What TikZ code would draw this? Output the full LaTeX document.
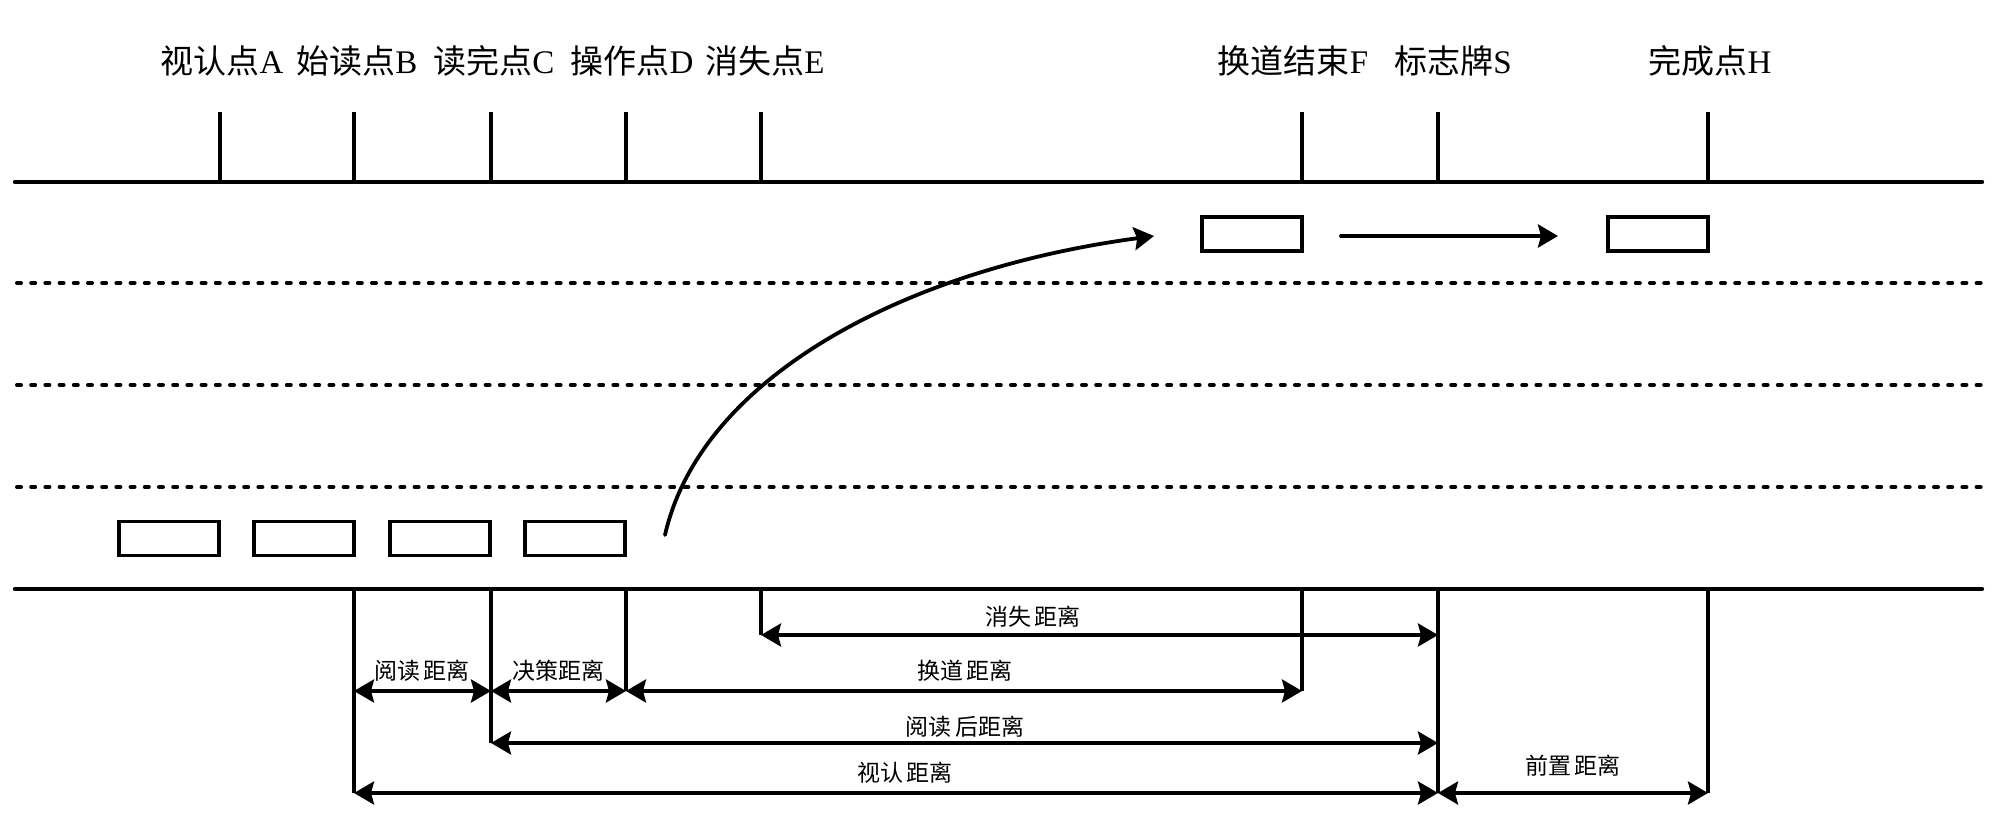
\documentclass[tikz,border=0pt]{standalone}
\usepackage{fontspec}
\setmainfont{Liberation Serif}
\newfontfamily\cjk{Noto Sans CJK SC}
\usetikzlibrary{arrows.meta}
\begin{document}
\begin{tikzpicture}[x=0.5pt,y=-0.5pt,
 road/.style={line width=2.2pt,line cap=round},
 tickline/.style={line width=1.7pt},
 lane/.style={line width=2pt,line cap=round,dash pattern=on 2pt off 5.1pt},
 car/.style={draw,line width=1.7pt,minimum width=50pt,minimum height=17pt,inner sep=0pt},
 tip/.tip={Stealth[length=10pt,width=11.5pt,inset=1.5pt]},
 dim/.style={line width=1.8pt,tip-tip},
 mover/.style={line width=1.9pt,line cap=round,-tip},
 toplbl/.style={font=\fontsize{16.5pt}{18pt}\selectfont,inner sep=0pt},
 dimlbl/.style={font=\fontsize{11.5pt}{13pt}\cjk,inner sep=0pt},
]
\useasboundingbox (0,0) rectangle (1999,840);
% road edges and lanes
\coordinate (roadTL) at (15,182); \coordinate (roadTR) at (1982,182);
\coordinate (roadBL) at (15,589); \coordinate (roadBR) at (1982,589);
\draw[road] (roadTL) -- (roadTR);
\draw[road] (roadBL) -- (roadBR);
\foreach \y [count=\i] in {283,385,487}{
  \coordinate (lane\i L) at (17,\y); \coordinate (lane\i R) at (1982,\y);
  \draw[lane] (lane\i L) -- (lane\i R);
}
% top ticks
\foreach \n/\x in {A/220,B/354,C/491,D/626,E/761,F/1302,S/1438,H/1708}{
  \coordinate (\n) at (\x,182);
  \coordinate (\n top) at (\x,112);
  \coordinate (\n bot) at (\x,589);
  \draw[tickline] (\n) -- (\n top);
}
% top labels
\node[toplbl] (lA) at (222,61) {{\cjk 视认点}A};
\node[toplbl] (lB) at (357,61) {{\cjk 始读点}B};
\node[toplbl] (lC) at (494,61) {{\cjk 读完点}C};
\node[toplbl] (lD) at (632,61) {{\cjk 操作点}D};
\node[toplbl] (lE) at (765,61) {{\cjk 消失点}E};
\node[toplbl] (lF) at (1293,61) {{\cjk 换道结束}F};
\node[toplbl] (lS) at (1453,61) {{\cjk 标志牌}S};
\node[toplbl] (lH) at (1710,61) {{\cjk 完成点}H};
% cars
\node[car] (car1) at (169,538.5) {};
\node[car] (car2) at (304,538.5) {};
\node[car] (car3) at (440,538.5) {};
\node[car] (car4) at (575,538.5) {};
\node[car] (car5) at (1252,234) {};
\node[car] (car6) at (1658,234) {};
% motion arrows
\coordinate (curveS) at (665,535);
\coordinate (curveE) at (1154,236);
\draw[mover] (curveS) .. controls (700,380) and (900,270) .. (curveE);
\coordinate (straightS) at (1341,236);
\coordinate (straightE) at (1558,236);
\draw[mover] (straightS) -- (straightE);
% extension lines below road
\coordinate (Bd) at (354,793); \coordinate (Cd) at (491,743);
\coordinate (Dd) at (626,691); \coordinate (Ed) at (761,635);
\coordinate (Fd) at (1302,691); \coordinate (Sd) at (1438,793);
\coordinate (Hd) at (1708,793);
\foreach \n in {B,C,D,E,F,S,H}{ \draw[tickline] (\n bot) -- (\n d); }
% dimension lines
\coordinate (Sd1) at (1438,635);
\coordinate (Cd2) at (491,691);
\coordinate (Bd2) at (354,691);
\coordinate (Sd3) at (1438,743);
\draw[dim] (Ed) -- (Sd1);
\draw[dim] (Bd2) -- (Cd2);
\draw[dim] (Cd2) -- (Dd);
\draw[dim] (Dd) -- (Fd);
\draw[dim] (Cd) -- (Sd3);
\draw[dim] (Bd) -- (Sd);
\draw[dim] (Sd) -- (Hd);
% dimension labels
\node[dimlbl] (d1) at (1033,617) {消失\hspace{0.15em}距离};
\node[dimlbl] (d2) at (422,671) {阅读\hspace{0.15em}距离};
\node[dimlbl] (d3) at (558,671) {决策距离};
\node[dimlbl] (d4) at (965,671) {换道\hspace{0.15em}距离};
\node[dimlbl] (d5) at (965,727) {阅读\hspace{0.15em}后距离};
\node[dimlbl] (d6) at (905,773) {视认\hspace{0.15em}距离};
\node[dimlbl] (d7) at (1573,766) {前置\hspace{0.15em}距离};
\end{tikzpicture}
\end{document}
